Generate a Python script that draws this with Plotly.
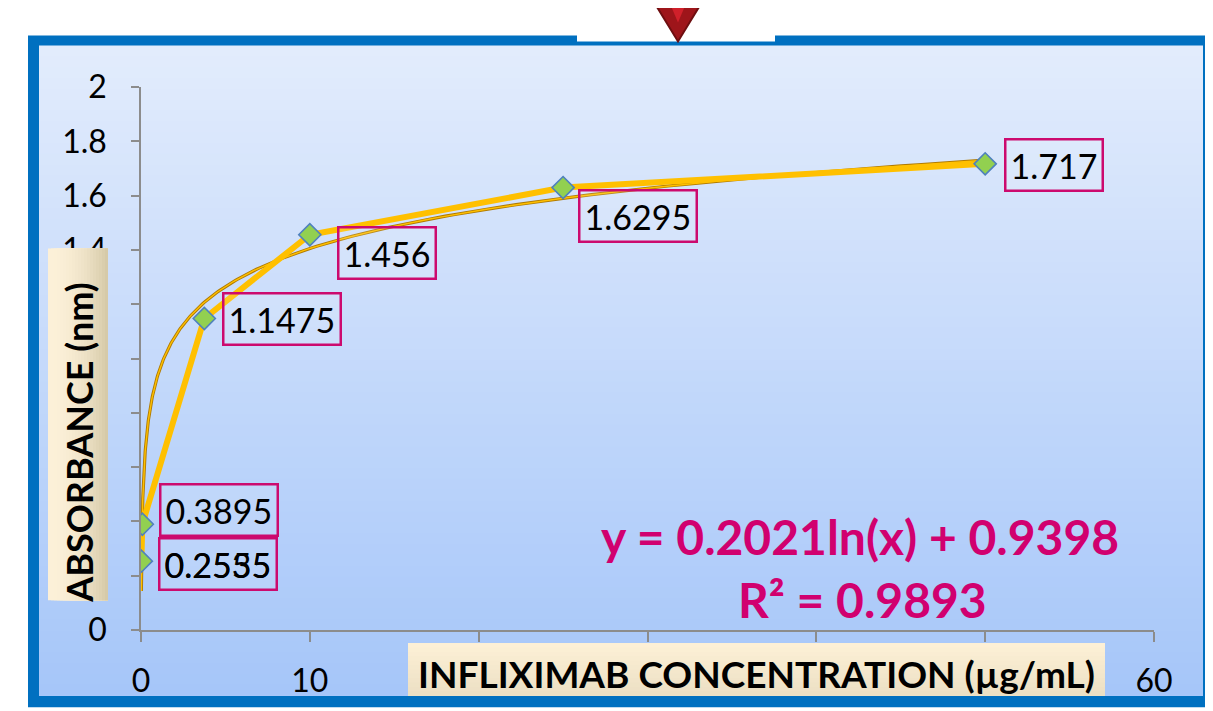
import math
import plotly.graph_objects as go

# data
concentration = [0.0195, 0.078, 3.75, 10, 25, 50]
absorbance = [0.2535, 0.3895, 1.1475, 1.456, 1.6295, 1.717]
point_labels = ["0.2535", "0.3895", "1.1475", "1.456", "1.6295", "1.717"]
extra_label = "0.2555"          # second label drawn over the first one

# logarithmic trendline as printed on the chart
fit_a = 0.2021
fit_b = 0.9398
fit_r2 = 0.9893

# tick labels; the ones hidden behind the axis-title boxes are left blank
x_ticks = [0, 10, 20, 30, 40, 50, 60]
x_tick_text = ["0", "10", "", "", "", "", "60"]
y_ticks = [0, 0.2, 0.4, 0.6, 0.8, 1.0, 1.2, 1.4, 1.6, 1.8, 2.0]
y_tick_text = ["0", "", "", "", "", "", "", "1.4", "1.6", "1.8", "2"]

# the page body has an 8px margin, so the figure is drawn 8px smaller
OFF = 8
W, H = 1213 - OFF, 711 - OFF
L, R, T, B = 141 - OFF, 59, 87 - OFF, 76
PW, PH = W - L - R, H - T - B


def px(p):
    # reference-picture x pixel -> paper fraction
    return (p - OFF - L) / PW


def py(p):
    return (H - B - (p - OFF)) / PH


def mix(c1, c2, t):
    return "rgb(%d,%d,%d)" % tuple(round(a + (b - a) * t) for a, b in zip(c1, c2))


shapes = []

# slide frame: blue border, gradient fill (bands overlap to avoid seams)
shapes.append(dict(type="rect", xref="paper", yref="paper", layer="below",
                   x0=px(28), x1=px(1215), y0=py(713), y1=py(35),
                   fillcolor="#0070C0", line=dict(width=0)))
top_c, bot_c = (226, 236, 252), (166, 198, 249)
n = 60
y_top, y_bot = 45, 701
for i in range(n):
    a = y_top + (y_bot - y_top) * i / n
    shapes.append(dict(type="rect", xref="paper", yref="paper", layer="below",
                       x0=px(39), x1=px(1203), y0=py(y_bot), y1=py(a),
                       fillcolor=mix(top_c, bot_c, i / (n - 1)), line=dict(width=0)))

# white notch with the red arrow at the top
shapes.append(dict(type="rect", xref="paper", yref="paper", layer="below",
                   x0=px(577), x1=px(775), y0=py(41), y1=py(-5),
                   fillcolor="white", line=dict(width=0)))
shapes.append(dict(type="path", xref="paper", yref="paper", layer="below",
                   path="M %f,%f L %f,%f L %f,%f Z" % (px(652), py(-2), px(704), py(-2),
                                                       px(678), py(41)),
                   fillcolor="#9E151A", line=dict(color="#6E0E10", width=2)))
shapes.append(dict(type="path", xref="paper", yref="paper", layer="below",
                   path="M %f,%f L %f,%f L %f,%f Z" % (px(668), py(-2), px(688), py(-2),
                                                       px(678), py(22)),
                   fillcolor="#D0202A", line=dict(width=0)))

# cream boxes behind the axis titles (they hide some tick labels)
yt_l, yt_r = (252, 240, 216), (214, 202, 168)
for i in range(20):
    a = 48 + 60 * i / 20
    shapes.append(dict(type="rect", xref="paper", yref="paper", layer="above",
                       x0=px(a), x1=px(108), y0=py(605), y1=py(250),
                       fillcolor=mix(yt_l, yt_r, (i / 19) ** 2), line=dict(width=0)))
xt_t, xt_b = (253, 240, 214), (236, 224, 196)
for i in range(12):
    a = 648 + 53 * i / 12
    shapes.append(dict(type="rect", xref="paper", yref="paper", layer="above",
                       x0=px(408), x1=px(1105), y0=py(701), y1=py(a),
                       fillcolor=mix(xt_t, xt_b, i / 11), line=dict(width=0)))

fig = go.Figure()

# trendline from the printed equation (double line look)
tx = [concentration[0] * (concentration[-1] / concentration[0]) ** (i / 300) for i in range(301)]
ty = [fit_a * math.log(v) + fit_b for v in tx]
fig.add_trace(go.Scatter(x=tx, y=ty, mode="lines", hoverinfo="skip",
                         line=dict(color="#B07A00", width=3.2)))
fig.add_trace(go.Scatter(x=tx, y=ty, mode="lines", hoverinfo="skip",
                         line=dict(color="#FFC000", width=1.4)))

# data line with diamond markers
fig.add_trace(go.Scatter(x=concentration, y=absorbance, mode="lines+markers",
                         line=dict(color="#FFC000", width=6),
                         marker=dict(symbol="diamond", size=17, color="#92D050",
                                     line=dict(color="#4F81BD", width=1.6))))

label_font = dict(family="Lato, sans-serif", size=34, color="black")
offsets = [(77, 3), (77, -14), (78, 1), (77, 18), (75, 28), (69, 1)]
annotations = []
for xv, yv, txt, (dx, dy) in zip(concentration, absorbance, point_labels, offsets):
    annotations.append(dict(x=xv, y=yv, text=txt, showarrow=False,
                            xanchor="center", yanchor="middle",
                            xshift=dx, yshift=-dy, font=label_font,
                            bordercolor="#CC0A6E", borderwidth=2.5, borderpad=4,
                            bgcolor="rgba(255,255,255,0.12)"))
annotations.append(dict(x=concentration[0], y=absorbance[0], text=extra_label,
                        showarrow=False, xanchor="center", yanchor="middle",
                        xshift=offsets[0][0], yshift=-offsets[0][1],
                        font=label_font, borderwidth=2.5, borderpad=4,
                        bordercolor="rgba(0,0,0,0)"))

eq_font = dict(family="Lato, sans-serif", size=48, color="#D1006F")
annotations.append(dict(xref="paper", yref="paper", x=px(860), y=py(541),
                        xanchor="center", yanchor="middle",
                        text="<b>y = %sln(x) + %s</b>" % (fit_a, fit_b),
                        showarrow=False, font=eq_font))
annotations.append(dict(xref="paper", yref="paper", x=px(862), y=py(604),
                        xanchor="center", yanchor="middle",
                        text="<b>R² = %s</b>" % fit_r2, showarrow=False, font=eq_font))

annotations.append(dict(xref="paper", yref="paper", x=px(79), y=py(446),
                        xanchor="center", yanchor="middle",
                        text="<b>ABSORBANCE (nm)</b>", textangle=-90, showarrow=False,
                        font=dict(family="Lato, sans-serif", size=36, color="black")))
annotations.append(dict(xref="paper", yref="paper", x=px(756), y=py(679),
                        xanchor="center", yanchor="middle",
                        text="<b>INFLIXIMAB CONCENTRATION (µg/mL)</b>", showarrow=False,
                        font=dict(family="Lato, sans-serif", size=37, color="black")))

fig.update_xaxes(range=[0, 60], tickvals=x_ticks, ticktext=x_tick_text,
                 ticks="outside", ticklen=10,
                 tickwidth=1.5, tickcolor="#8C8C8C", showline=True, linecolor="#8C8C8C",
                 linewidth=1.5, showgrid=False, zeroline=False, ticklabelstandoff=12,
                 tickfont=dict(family="Lato, sans-serif", size=32, color="black"))
fig.update_yaxes(range=[0, 2], tickvals=y_ticks, ticktext=y_tick_text,
                 ticks="outside", ticklen=8,
                 tickwidth=1.5, tickcolor="#8C8C8C", showline=True, linecolor="#8C8C8C",
                 linewidth=1.5, showgrid=False, zeroline=False, ticklabelstandoff=18,
                 tickfont=dict(family="Lato, sans-serif", size=32, color="black"))

fig.update_layout(width=W, height=H, margin=dict(l=L, r=R, t=T, b=B),
                  paper_bgcolor="white", plot_bgcolor="rgba(0,0,0,0)",
                  showlegend=False, shapes=shapes, annotations=annotations)

fig.write_html("out.html")
